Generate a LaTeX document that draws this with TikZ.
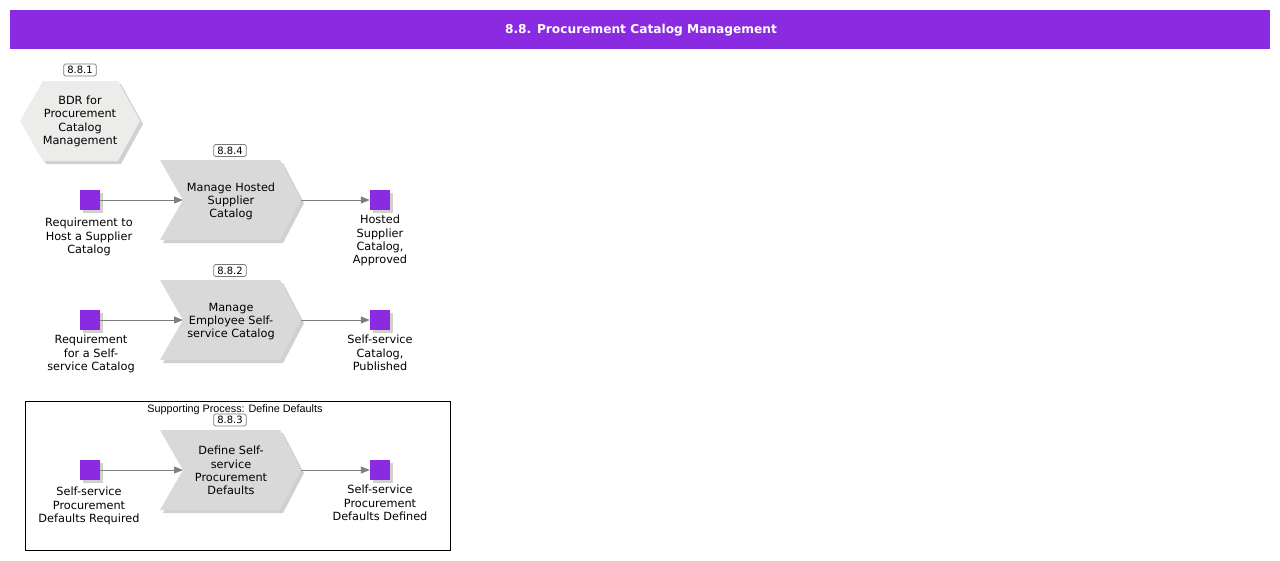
\documentclass[tikz,border=0pt]{standalone}
\usepackage{fontspec}
\setmainfont{DejaVu Sans}
\newfontfamily\arialf{Liberation Sans}
\usetikzlibrary{arrows.meta}
\definecolor{ppurple}{HTML}{8A2BE2}
\definecolor{chevfill}{HTML}{D9D9DA}
\definecolor{hexfill}{HTML}{ECECEA}
\definecolor{shadowc}{HTML}{BDBDBD}
\definecolor{arrowc}{HTML}{7F7F7F}
\definecolor{idborder}{HTML}{7A7A7A}
\tikzset{
  txt/.style={font=\fontsize{11.3}{13.3}\selectfont, align=center, inner sep=0pt, text=black},
  idbox/.style={draw=idborder, line width=0.7pt, fill=white, rounded corners=1.5pt, font=\fontsize{10}{11}\selectfont, inner xsep=3.5pt, inner ysep=1pt, minimum height=12pt},
  evt/.style={fill=ppurple, minimum size=20pt, inner sep=0pt},
  evtshadow/.style={fill=shadowc, opacity=0.7},
  flow/.style={draw=arrowc, line width=0.8pt, -{Triangle[length=9pt,width=7pt]}},
}
\newcommand{\chevronat}[3]{% #1 x left, #2 y center, #3 name
  \fill[shadowc,opacity=0.7] ({#1+3},{#2-40+3}) -- ({#1+123},{#2-40+3}) -- ({#1+144},{#2+3}) -- ({#1+123},{#2+40+3}) -- ({#1+3},{#2+40+3}) -- ({#1+26},{#2+3}) -- cycle;
  \fill[chevfill] (#1,{#2-40}) -- ({#1+120},{#2-40}) -- ({#1+141},#2) -- ({#1+120},{#2+40}) -- (#1,{#2+40}) -- ({#1+23},#2) -- cycle;
  \coordinate (#3in) at ({#1+23},#2);
  \coordinate (#3out) at ({#1+141},#2);
}
\newcommand{\evtat}[3]{% x center, y center, name
  \fill[evtshadow] ({#1-10+3},{#2-10+3}) rectangle ({#1+10+3},{#2+10+3});
  \node[evt] (#3) at (#1,#2) {};
}
\begin{document}
\begin{tikzpicture}[x=1pt,y=-1pt]
\useasboundingbox (0,0) rectangle (1280,560);
\fill[white] (0,0) rectangle (1280,560);
% title bar
\fill[ppurple] (10,10) rectangle (1270,49);
\node[font=\bfseries\fontsize{12.2}{14}\selectfont, text=white] (title) at (641,30.5) {8.8. Procurement Catalog Management};

% hexagon 8.8.1
\fill[shadowc,opacity=0.7] (46,84) -- (121,84) -- (143,124) -- (121,164) -- (46,164) -- (23,124) -- cycle;
\fill[hexfill] (43,81) -- (118,81) -- (140,121) -- (118,161) -- (43,161) -- (20,121) -- cycle;
\node[txt] (bdr) at (80,121.5) {BDR for\\Procurement\\Catalog\\Management};
\node[idbox] (id881) at (80,70) {8.8.1};

% row 1
\chevronat{160}{200}{p4}
\node[txt] (p4t) at (231,201.5) {Manage Hosted\\Supplier\\Catalog};
\node[idbox] (id884) at (230,150.5) {8.8.4};
\evtat{90}{200}{e1}
\evtat{380}{200}{e2}
\node[txt, anchor=north] (e1t) at (89,218) {Requirement to\\Host a Supplier\\Catalog};
\node[txt, anchor=north] (e2t) at (380,215) {Hosted\\Supplier\\Catalog,\\Approved};
\draw[flow] (e1.east) -- (p4in);
\draw[flow] (p4out) -- (e2.west);

% row 2
\chevronat{160}{320}{p2}
\node[txt] (p2t) at (231,321.5) {Manage\\Employee Self-\\service Catalog};
\node[idbox] (id882) at (230,270.5) {8.8.2};
\evtat{90}{320}{e3}
\evtat{380}{320}{e4}
\node[txt, anchor=north] (e3t) at (91,335) {Requirement\\for a Self-\\service Catalog};
\node[txt, anchor=north] (e4t) at (380,335) {Self-service\\Catalog,\\Published};
\draw[flow] (e3.east) -- (p2in);
\draw[flow] (p2out) -- (e4.west);

% supporting process box
\draw[black, line width=0.8pt] (25.5,401.5) rectangle (450.5,550.5);
\node[font=\arialf\fontsize{10.8}{12}\selectfont, inner sep=0pt] (supt) at (235,409.5) {Supporting Process: Define Defaults};
\chevronat{160}{470}{p3}
\node[txt] (p3t) at (231,470.5) {Define Self-\\service\\Procurement\\Defaults};
\node[idbox] (id883) at (230,420) {8.8.3};
\evtat{90}{470}{e5}
\evtat{380}{470}{e6}
\node[txt, anchor=north] (e5t) at (89,487) {Self-service\\Procurement\\Defaults Required};
\node[txt, anchor=north] (e6t) at (380,485) {Self-service\\Procurement\\Defaults Defined};
\draw[flow] (e5.east) -- (p3in);
\draw[flow] (p3out) -- (e6.west);
\end{tikzpicture}
\end{document}
